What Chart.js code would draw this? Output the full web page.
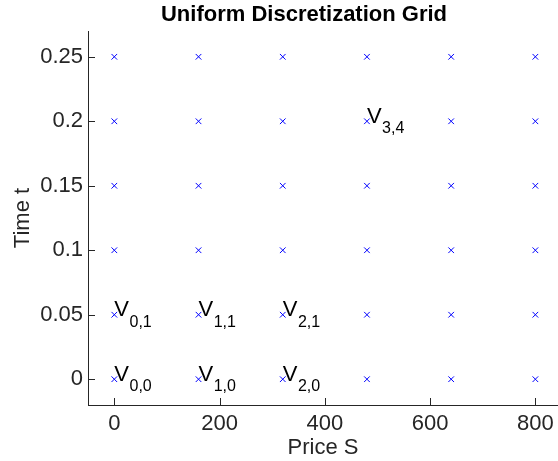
<!DOCTYPE html>
<html>
<head>
<meta charset="utf-8">
<script src="https://cdn.jsdelivr.net/npm/chart.js@4.4.0/dist/chart.umd.min.js"></script>
<style>
  html, body { margin: 0; padding: 0; background: #fff; }
  #wrap { width: 558px; height: 461px; }
</style>
</head>
<body>
<div id="wrap"><canvas id="gridChart"></canvas></div>
<script>
// grid nodes
const priceS = [0, 160, 320, 480, 640, 800];
const timeT = [0, 0.05, 0.1, 0.15, 0.2, 0.25];

// which nodes get a V_{i,j} label (index into priceS / timeT)
const labelI = [0, 1, 2, 0, 1, 2, 3];
const labelJ = [0, 0, 0, 1, 1, 1, 4];

// axis ticks
const xTicks = [0, 200, 400, 600, 800];
const yTicks = [0, 0.05, 0.1, 0.15, 0.2, 0.25];
const yTickLabels = ['0', '0.05', '0.1', '0.15', '0.2', '0.25'];

const FONT = "'Liberation Sans', Arial, Helvetica, sans-serif";
const AXIS_COLOR = '#262626';

var points = [];
timeT.forEach(function (t) {
  priceS.forEach(function (s) {
    points.push({ x: s, y: t });
  });
});

// title, inward ticks and V labels
const extrasPlugin = {
  id: 'extras',
  afterDraw: function (chart) {
    const ctx = chart.ctx;
    const xs = chart.scales.x;
    const ys = chart.scales.y;
    const area = chart.chartArea;
    ctx.save();

    // inward tick marks
    ctx.strokeStyle = AXIS_COLOR;
    ctx.lineWidth = 1;
    ctx.beginPath();
    xTicks.forEach(function (v) {
      const px = Math.round(xs.getPixelForValue(v)) + 0.5;
      ctx.moveTo(px, area.bottom);
      ctx.lineTo(px, area.bottom - 7);
    });
    yTicks.forEach(function (v) {
      const py = Math.round(ys.getPixelForValue(v)) + 0.5;
      ctx.moveTo(area.left, py);
      ctx.lineTo(area.left + 7, py);
    });
    ctx.stroke();

    // title
    ctx.fillStyle = '#000';
    ctx.font = 'bold 22px ' + FONT;
    ctx.textAlign = 'center';
    ctx.textBaseline = 'alphabetic';
    ctx.fillText('Uniform Discretization Grid', 304, 21);

    // V_{i,j} labels
    ctx.textAlign = 'left';
    for (let k = 0; k < labelI.length; k++) {
      const i = labelI[k], j = labelJ[k];
      const px = xs.getPixelForValue(priceS[i]);
      const py = ys.getPixelForValue(timeT[j]);
      ctx.font = '22px ' + FONT;
      ctx.fillText('V', px, py + 1.5);
      const w = ctx.measureText('V').width;
      ctx.font = '16px ' + FONT;
      ctx.fillText(i + ',' + j, px + w + 0.5, py + 12);
    }
    ctx.restore();
  }
};

new Chart(document.getElementById('gridChart'), {
  type: 'scatter',
  data: {
    datasets: [{
      data: points,
      pointStyle: 'crossRot',
      pointRadius: 4,
      pointHoverRadius: 4,
      borderColor: '#0000ff',
      backgroundColor: '#0000ff',
      borderWidth: 1
    }]
  },
  options: {
    responsive: true,
    maintainAspectRatio: false,
    animation: false,
    events: [],
    layout: { autoPadding: false, padding: { top: 31, right: 0, bottom: 0, left: 0 } },
    plugins: {
      legend: { display: false },
      tooltip: { enabled: false },
      title: { display: false }
    },
    scales: {
      x: {
        type: 'linear',
        min: -50,
        max: 843,
        afterFit: function (s) {
          s.height = 56;
          s.paddingLeft = 0;
          s.paddingRight = 0;
        },
        afterBuildTicks: function (s) { s.ticks = xTicks.map(function (v) { return { value: v }; }); },
        grid: { display: false, drawTicks: false, tickLength: 0 },
        border: { display: true, color: AXIS_COLOR, width: 1 },
        ticks: {
          color: AXIS_COLOR,
          padding: 6,
          maxRotation: 0,
          font: { family: FONT, size: 22 }
        },
        title: {
          display: true,
          text: 'Price S',
          color: AXIS_COLOR,
          padding: { top: 9, bottom: 0 },
          font: { family: FONT, size: 22 }
        }
      },
      y: {
        type: 'linear',
        min: -0.02,
        max: 0.27,
        afterFit: function (s) {
          s.width = 88;
          s.paddingTop = 0;
          s.paddingBottom = 0;
        },
        afterBuildTicks: function (s) { s.ticks = yTicks.map(function (v) { return { value: v }; }); },
        grid: { display: false, drawTicks: false, tickLength: 0 },
        border: { display: true, color: AXIS_COLOR, width: 1 },
        ticks: {
          color: AXIS_COLOR,
          padding: 5,
          font: { family: FONT, size: 22 },
          callback: function (v) {
            const idx = yTicks.indexOf(v);
            return idx >= 0 ? yTickLabels[idx] : '';
          }
        },
        title: {
          display: true,
          text: 'Time t',
          color: AXIS_COLOR,
          padding: { top: 10, bottom: 0 },
          font: { family: FONT, size: 22 }
        }
      }
    }
  },
  plugins: [extrasPlugin]
});
</script>
</body>
</html>
